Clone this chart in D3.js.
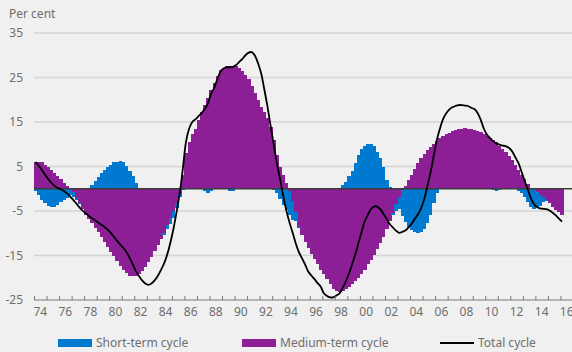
<!DOCTYPE html>
<meta charset="utf-8">
<style>
body { margin: 0; background: #f0f0f0; font-family: "Noto Sans", sans-serif; }
svg text { fill: #6e6e6e; font-size: 12px; }
.grid line { stroke: #d4d4d4; stroke-width: 1.3; }
.xaxis path, .xaxis line { stroke: #7a7a7a; }
</style>
<body>
<script src="https://d3js.org/d3.v7.min.js"></script>
<script>

// quarterly data, 1974Q1 - 2016Q1
var startYear = 1974;

var mediumTerm = [
  6.1, 6.1, 5.9, 5.4, 4.8, 4.2, 3.5, 2.8, 2.1, 1.4, 0.7,
  0.0, -0.8, -2.0, -3.3, -4.6, -5.8, -6.8, -7.8, -8.8, -9.8,
  -10.9, -12.0, -13.1, -14.2, -15.2, -16.3, -17.3, -18.3, -19.0, -19.5,
  -19.6, -19.5, -19.1, -18.5, -17.6, -16.5, -15.3, -14.0, -12.6, -11.4,
  -10.0, -8.2, -6.6, -5.0, -3.2, -1.2, 3.0, 8.0, 10.5, 12.2,
  13.5, 15.5, 17.2, 18.8, 20.4, 22.3, 23.8, 25.3, 26.6, 27.2,
  27.5, 27.6, 27.6, 27.5, 27.2, 26.5, 25.6, 24.6, 23.2, 21.6,
  20.0, 18.4, 17.3, 16.0, 13.8, 11.0, 7.5, 4.8, 3.2, 1.3,
  -0.5, -2.8, -5.2, -8.5, -10.5, -12.0, -13.3, -14.6, -15.8, -17.0,
  -18.2, -19.2, -20.3, -21.5, -22.5, -23.0, -23.1, -22.9, -22.5, -22.0,
  -21.4, -20.7, -20.0, -19.2, -18.2, -17.0, -15.9, -14.8, -13.5, -12.2,
  -10.8, -9.0, -7.3, -5.5, -3.5, -1.8, -0.3, 0.7, 2.0, 3.2,
  4.5, 5.7, 6.8, 7.8, 8.7, 9.4, 10.1, 10.7, 11.3, 11.8,
  12.2, 12.6, 12.9, 13.2, 13.4, 13.5, 13.6, 13.5, 13.4, 13.3,
  13.0, 12.7, 12.3, 11.9, 11.4, 10.9, 10.4, 9.7, 9.0, 8.3,
  7.4, 6.4, 5.4, 4.3, 3.2, 2.1, 1.0, 0.1, -0.3, -0.8,
  -1.3, -1.8, -2.5, -3.3, -4.0, -4.7, -5.3, -5.8
];

var shortTerm = [
  -0.5, -1.5, -2.5, -3.3, -3.9, -4.2, -4.0, -3.6, -3.0, -2.5, -2.0,
  -1.5, -1.0, -0.5, -0.2, 0.0, 0.0, 0.2, 0.9, 1.7, 2.7,
  3.5, 4.2, 4.9, 5.4, 5.9, 6.1, 6.2, 6.0, 5.2, 4.0,
  2.8, 1.2, 0.2, 0, 0, 0, 0, 0, 0, 0,
  -0.3, -0.8, -1.3, -1.5, -1.2, -0.7, -0.2, 0, 0, 0,
  0, 0, 0, -0.5, -0.9, -0.6, 0, 0, 0, 0,
  0, -0.4, -0.4, 0, 0, 0, 0, 0, 0, 0,
  0, 0, 0, 0, 0, -0.3, -1.0, -2.3, -3.6, -4.8,
  -5.3, -4.2, -2.0, -0.3, 0, 0, 0, 0, 0, 0,
  0, 0, 0, 0, 0, 0, 0, 0.8, 1.6, 2.8,
  4.0, 5.7, 7.6, 8.9, 9.6, 10.1, 10.0, 9.6, 8.3, 6.8,
  4.8, 2.0, 0.4, -0.5, -1.5, -2.8, -5.8, -7.5, -8.6, -9.2,
  -9.7, -9.9, -9.8, -9.0, -7.8, -5.8, -3.2, -1.0, 0, 0,
  0, 0, 0, 0, 0, 0, 0, 0, 0, 0,
  0, 0, 0, 0, 0, -0.3, -0.5, -0.3, 0, 0,
  0, 0, 0, -0.4, -1.0, -1.8, -3.0, -4.2, -4.2, -3.4,
  -2.6, -1.2, -0.3, 0, 0, 0, 0, 0
];

var totalCycle = [
  6.0, 5.2, 4.2, 3.2, 2.2, 1.4, 0.7, 0.2, -0.1, -0.5, -1.0,
  -1.7, -2.5, -3.3, -4.2, -4.9, -5.5, -6.1, -6.6, -7.1, -7.6,
  -8.1, -8.6, -9.2, -9.9, -10.8, -11.7, -12.5, -13.3, -14.2, -15.5,
  -17.0, -18.5, -19.6, -20.6, -21.3, -21.6, -21.3, -20.6, -19.6, -18.3,
  -16.8, -14.8, -12.2, -9.0, -5.2, -1.0, 4.5, 10.5, 13.5, 15.0,
  15.6, 16.3, 17.0, 17.9, 19.2, 21.3, 22.7, 24.6, 26.3, 27.0,
  27.3, 27.3, 27.4, 27.8, 28.5, 29.2, 30.0, 30.6, 30.7, 29.9,
  28.2, 25.9, 22.3, 18.5, 14.1, 9.9, 5.7, 2.3, -1.5, -4.8,
  -7.5, -9.8, -12.2, -14.2, -15.6, -17.0, -18.6, -19.5, -20.3, -21.2,
  -22.0, -23.5, -24.1, -24.4, -24.4, -24.0, -23.5, -22.3, -20.8, -19.1,
  -17.0, -14.8, -12.3, -9.8, -7.4, -5.9, -4.6, -4.0, -4.0, -4.6,
  -5.6, -6.7, -7.9, -8.7, -9.4, -9.9, -9.7, -9.4, -8.7, -7.9,
  -6.8, -5.8, -4.4, -2.4, 0.5, 3.5, 7.2, 10.8, 13.4, 15.6,
  16.9, 17.8, 18.3, 18.6, 18.8, 18.8, 18.7, 18.6, 18.2, 17.9,
  17.1, 15.6, 13.6, 12.2, 11.4, 10.7, 10.2, 9.9, 9.7, 9.6,
  9.2, 8.5, 7.2, 5.9, 4.0, 1.9, 0.0, -2.0, -3.4, -4.1,
  -4.4, -4.5, -4.6, -4.9, -5.4, -6.0, -6.7, -7.4
];

var yTicks = [35, 25, 15, 5, -5, -15, -25];
var yearLabels = ["74", "76", "78", "80", "82", "84", "86", "88", "90", "92", "94",
                  "96", "98", "00", "02", "04", "06", "08", "10", "12", "14", "16"];

var blue = "#0079d1", purple = "#8c1f96";

var width = 572, height = 352;
var plotLeft = 34, plotRight = 573, plotTop = 33, plotBottom = 300;

var svg = d3.select("body").append("svg")
    .attr("width", width)
    .attr("height", height);

// 43 years on the axis, 4 quarters each
var x = d3.scaleBand()
    .domain(d3.range(43 * 4))
    .range([plotLeft, plotRight])
    .padding(0);

var yr = d3.scaleLinear()
    .domain([startYear, startYear + 43])
    .range([plotLeft, plotRight]);

var y = d3.scaleLinear()
    .domain([-25, 35])
    .range([plotBottom, plotTop]);

// gridlines
svg.append("g")
    .attr("class", "grid")
  .selectAll("line")
    .data(yTicks.filter(function(d) { return d != -25; }))
  .enter().append("line")
    .attr("x1", plotLeft)
    .attr("x2", width)
    .attr("y1", function(d) { return y(d); })
    .attr("y2", function(d) { return y(d); });

// y labels
svg.append("g")
  .selectAll("text")
    .data(yTicks)
  .enter().append("text")
    .attr("x", 23)
    .attr("y", function(d) { return y(d) + 4; })
    .attr("text-anchor", "end")
    .text(function(d) { return d; });

svg.append("text")
    .attr("x", 9)
    .attr("y", 18)
    .text("Per cent");

// stacked bars, medium-term nearest the zero line
var rows = mediumTerm.map(function(m, i) {
  return {i: i, medium: m, short: shortTerm[i]};
});

var series = d3.stack()
    .keys(["medium", "short"])
    .offset(d3.stackOffsetDiverging)(rows);

var colors = {medium: purple, short: blue};

svg.append("g")
  .selectAll("g")
    .data(series)
  .enter().append("g")
    .attr("fill", function(d) { return colors[d.key]; })
  .selectAll("rect")
    .data(function(d) { return d; })
  .enter().append("rect")
    .attr("shape-rendering", "crispEdges")
    .attr("x", function(d) { return x(d.data.i); })
    .attr("width", x.bandwidth() + 0.4)
    .attr("y", function(d) { return y(Math.max(d[0], d[1])); })
    .attr("height", function(d) { return Math.abs(y(d[0]) - y(d[1])); });

// zero line
svg.append("line")
    .attr("x1", plotLeft)
    .attr("x2", width)
    .attr("y1", y(0))
    .attr("y2", y(0))
    .attr("stroke", "#3c3c3c")
    .attr("stroke-width", 1.4);

// total cycle
var line = d3.line()
    .x(function(d, i) { return x(i) + x.bandwidth() / 2; })
    .y(function(d) { return y(d); })
    .curve(d3.curveCatmullRom.alpha(0.5));

svg.append("path")
    .datum(totalCycle)
    .attr("fill", "none")
    .attr("stroke", "#000")
    .attr("stroke-width", 1.8)
    .attr("d", line);

// x axis
var xAxis = svg.append("g")
    .attr("class", "xaxis")
    .attr("transform", "translate(0," + plotBottom + ")")
    .call(d3.axisBottom(yr)
      .tickValues(d3.range(startYear, startYear + 43))
      .tickSize(-4)
      .tickSizeOuter(0)
      .tickFormat(""));
xAxis.select(".domain").attr("d", "M" + plotLeft + ",0H" + width);

svg.append("g")
  .selectAll("text")
    .data(yearLabels)
  .enter().append("text")
    .attr("x", function(d, i) { return yr(startYear + 2 * i + 0.5); })
    .attr("y", 316)
    .attr("text-anchor", "middle")
    .text(function(d) { return d; });

// legend
var legend = svg.append("g");
legend.append("rect").attr("x", 58).attr("y", 339).attr("width", 34).attr("height", 8).attr("fill", blue);
legend.append("text").attr("x", 96).attr("y", 347).text("Short-term cycle");
legend.append("rect").attr("x", 242).attr("y", 339).attr("width", 34).attr("height", 8).attr("fill", purple);
legend.append("text").attr("x", 280).attr("y", 347).text("Medium-term cycle");
legend.append("line").attr("x1", 440).attr("x2", 474).attr("y1", 343).attr("y2", 343)
    .attr("stroke", "#000").attr("stroke-width", 2);
legend.append("text").attr("x", 478).attr("y", 347).text("Total cycle");

</script>
